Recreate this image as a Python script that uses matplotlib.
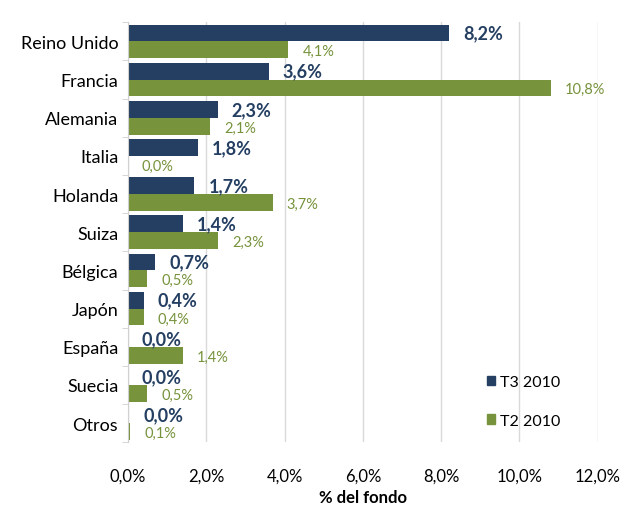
import matplotlib
matplotlib.use("Agg")
import matplotlib.pyplot as plt
import numpy as np
from matplotlib.patches import Patch

plt.rcParams['font.family'] = ['Lato', 'DejaVu Sans']

categories = ["Reino Unido", "Francia", "Alemania", "Italia", "Holanda", "Suiza",
              "Bélgica", "Japón", "España", "Suecia", "Otros"]
t3_2010 = [8.2, 3.6, 2.3, 1.8, 1.7, 1.4, 0.7, 0.4, 0.0, 0.0, 0.04]
t2_2010 = [4.1, 10.8, 2.1, 0.0, 3.7, 2.3, 0.5, 0.4, 1.4, 0.5, 0.06]
xticks = [0, 2, 4, 6, 8, 10, 12]

blue = "#243F62"
green = "#77933C"

fig = plt.figure(figsize=(6.24, 5.06), dpi=100)
ax = fig.add_axes([0.205, 0.124, 0.753, 0.83])

y = np.arange(len(categories))
h = 0.44
ax.barh(y - h / 2, t3_2010, height=h, color=blue, label="T3 2010")
ax.barh(y + h / 2, t2_2010, height=h, color=green, label="T2 2010")

def fmt(v):
    return f"{v:.1f}%".replace(".", ",")

for yi, v in zip(y, t3_2010):
    ax.annotate(fmt(v), xy=(v, yi - h / 2), xytext=(10, 0), textcoords="offset points",
                va="center", ha="left", fontsize=13, fontweight="bold", color=blue)
for yi, v in zip(y, t2_2010):
    ax.annotate(fmt(v), xy=(v, yi + h / 2), xytext=(10, -1), textcoords="offset points",
                va="center", ha="left", fontsize=10.5, color=green)

ax.set_xlim(0, 12)
ax.set_ylim(len(categories) - 0.5, -0.5)
ax.set_xticks(xticks)
ax.set_xticklabels([f"{t:.1f}%".replace(".", ",") for t in xticks], fontsize=12)
ax.set_yticks(y)
ax.set_yticklabels(categories, fontsize=13)
ax.set_yticks(np.arange(len(categories) + 1) - 0.5, minor=True)
ax.tick_params(axis="y", which="major", length=0, pad=7)
ax.tick_params(axis="y", which="minor", length=4, color="#D0D0D0", direction="out")
ax.tick_params(axis="x", length=0, pad=18)
ax.set_xlabel("% del fondo", fontsize=12, fontweight="bold", labelpad=4)

ax.grid(axis="x", color="#D9D9D9", linewidth=1)
ax.set_axisbelow(True)
for s in ["top", "right", "bottom"]:
    ax.spines[s].set_visible(False)
ax.spines["left"].set_color("#D0D0D0")

handles = [Patch(color=blue, label="T3 2010"), Patch(color=green, label="T2 2010")]
leg = ax.legend(handles=handles, loc="upper left", bbox_to_anchor=(0.75, 0.175),
                frameon=False, fontsize=11.5, handlelength=0.55, handleheight=0.55,
                handletextpad=0.3, labelspacing=1.55, borderaxespad=0)

fig.savefig("out.png", dpi=100)
